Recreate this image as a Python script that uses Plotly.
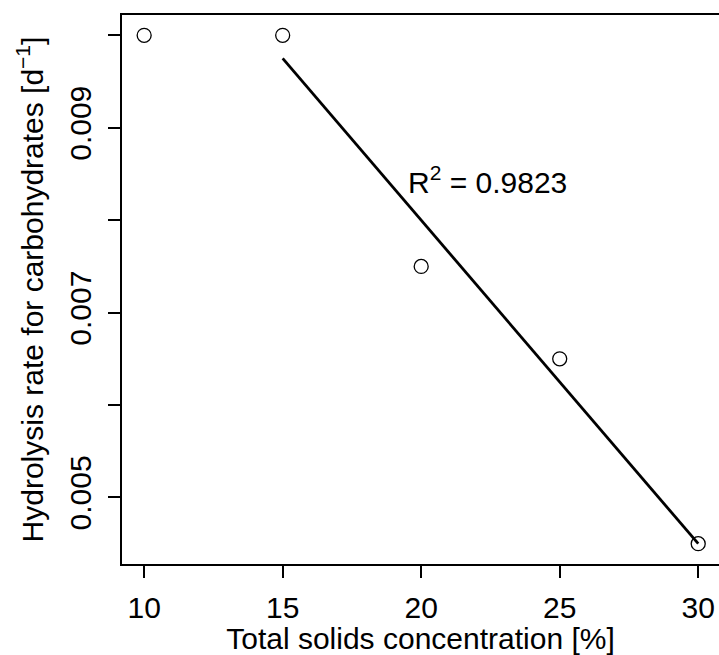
import numpy as np
import plotly.graph_objects as go

# Data
ts_conc = [10, 15, 20, 25, 30]
hydrolysis_rate = [0.0100, 0.0100, 0.0075, 0.0065, 0.0045]
fit_x = [15, 20, 25, 30]          # points used in the regression
x_ticks = [10, 15, 20, 25, 30]
y_tick_vals = [0.005, 0.006, 0.007, 0.008, 0.009, 0.010]
y_tick_text = ["0.005", "", "0.007", "", "0.009", ""]
r2_label = "R<sup>2</sup> = 0.9823"

fit_y_src = [hydrolysis_rate[ts_conc.index(v)] for v in fit_x]
slope, intercept = np.polyfit(fit_x, fit_y_src, 1)
line_x = [min(fit_x), max(fit_x)]
line_y = [slope * v + intercept for v in line_x]

FONT = "Liberation Sans, Arial, Helvetica, sans-serif"
FS = 30

fig = go.Figure()
fig.add_trace(go.Scatter(
    x=ts_conc, y=hydrolysis_rate, mode="markers",
    marker=dict(symbol="circle-open", size=14, color="black", line=dict(width=1.3, color="black")),
    showlegend=False,
))
fig.add_trace(go.Scatter(
    x=line_x, y=line_y, mode="lines",
    line=dict(color="black", width=2.8),
    showlegend=False,
))
fig.add_annotation(
    x=19.45, y=0.00843, xref="x", yref="y", text=r2_label,
    showarrow=False, xanchor="left", yanchor="middle",
    font=dict(family=FONT, size=FS, color="black"),
)

fig.update_layout(
    width=719, height=655,
    margin=dict(l=122, r=0, t=15, b=91),
    paper_bgcolor="white", plot_bgcolor="white",
    font=dict(family=FONT, size=FS, color="black"),
    xaxis=dict(
        range=[9.2, 30.75], tickvals=x_ticks, ticks="outside", ticklen=12, tickwidth=1.5,
        tickcolor="black", showline=True, linewidth=2, linecolor="black", mirror=True,
        showgrid=False, zeroline=False, ticklabelstandoff=4,
        title=dict(text="Total solids concentration [%]", font=dict(size=FS), standoff=6),
        tickfont=dict(size=FS),
    ),
    yaxis=dict(
        range=[0.00428, 0.01022], tickvals=y_tick_vals, ticktext=y_tick_text,
        ticks="outside", ticklen=12, tickwidth=1.5, tickcolor="black", tickangle=-90,
        showline=True, linewidth=2, linecolor="black", mirror=False,
        showgrid=False, zeroline=False, ticklabelstandoff=5,
        title=dict(text="Hydrolysis rate for carbohydrates [d<sup>−1</sup>]", font=dict(size=FS), standoff=12),
        tickfont=dict(size=FS),
    ),
)

fig.write_html("out.html")
